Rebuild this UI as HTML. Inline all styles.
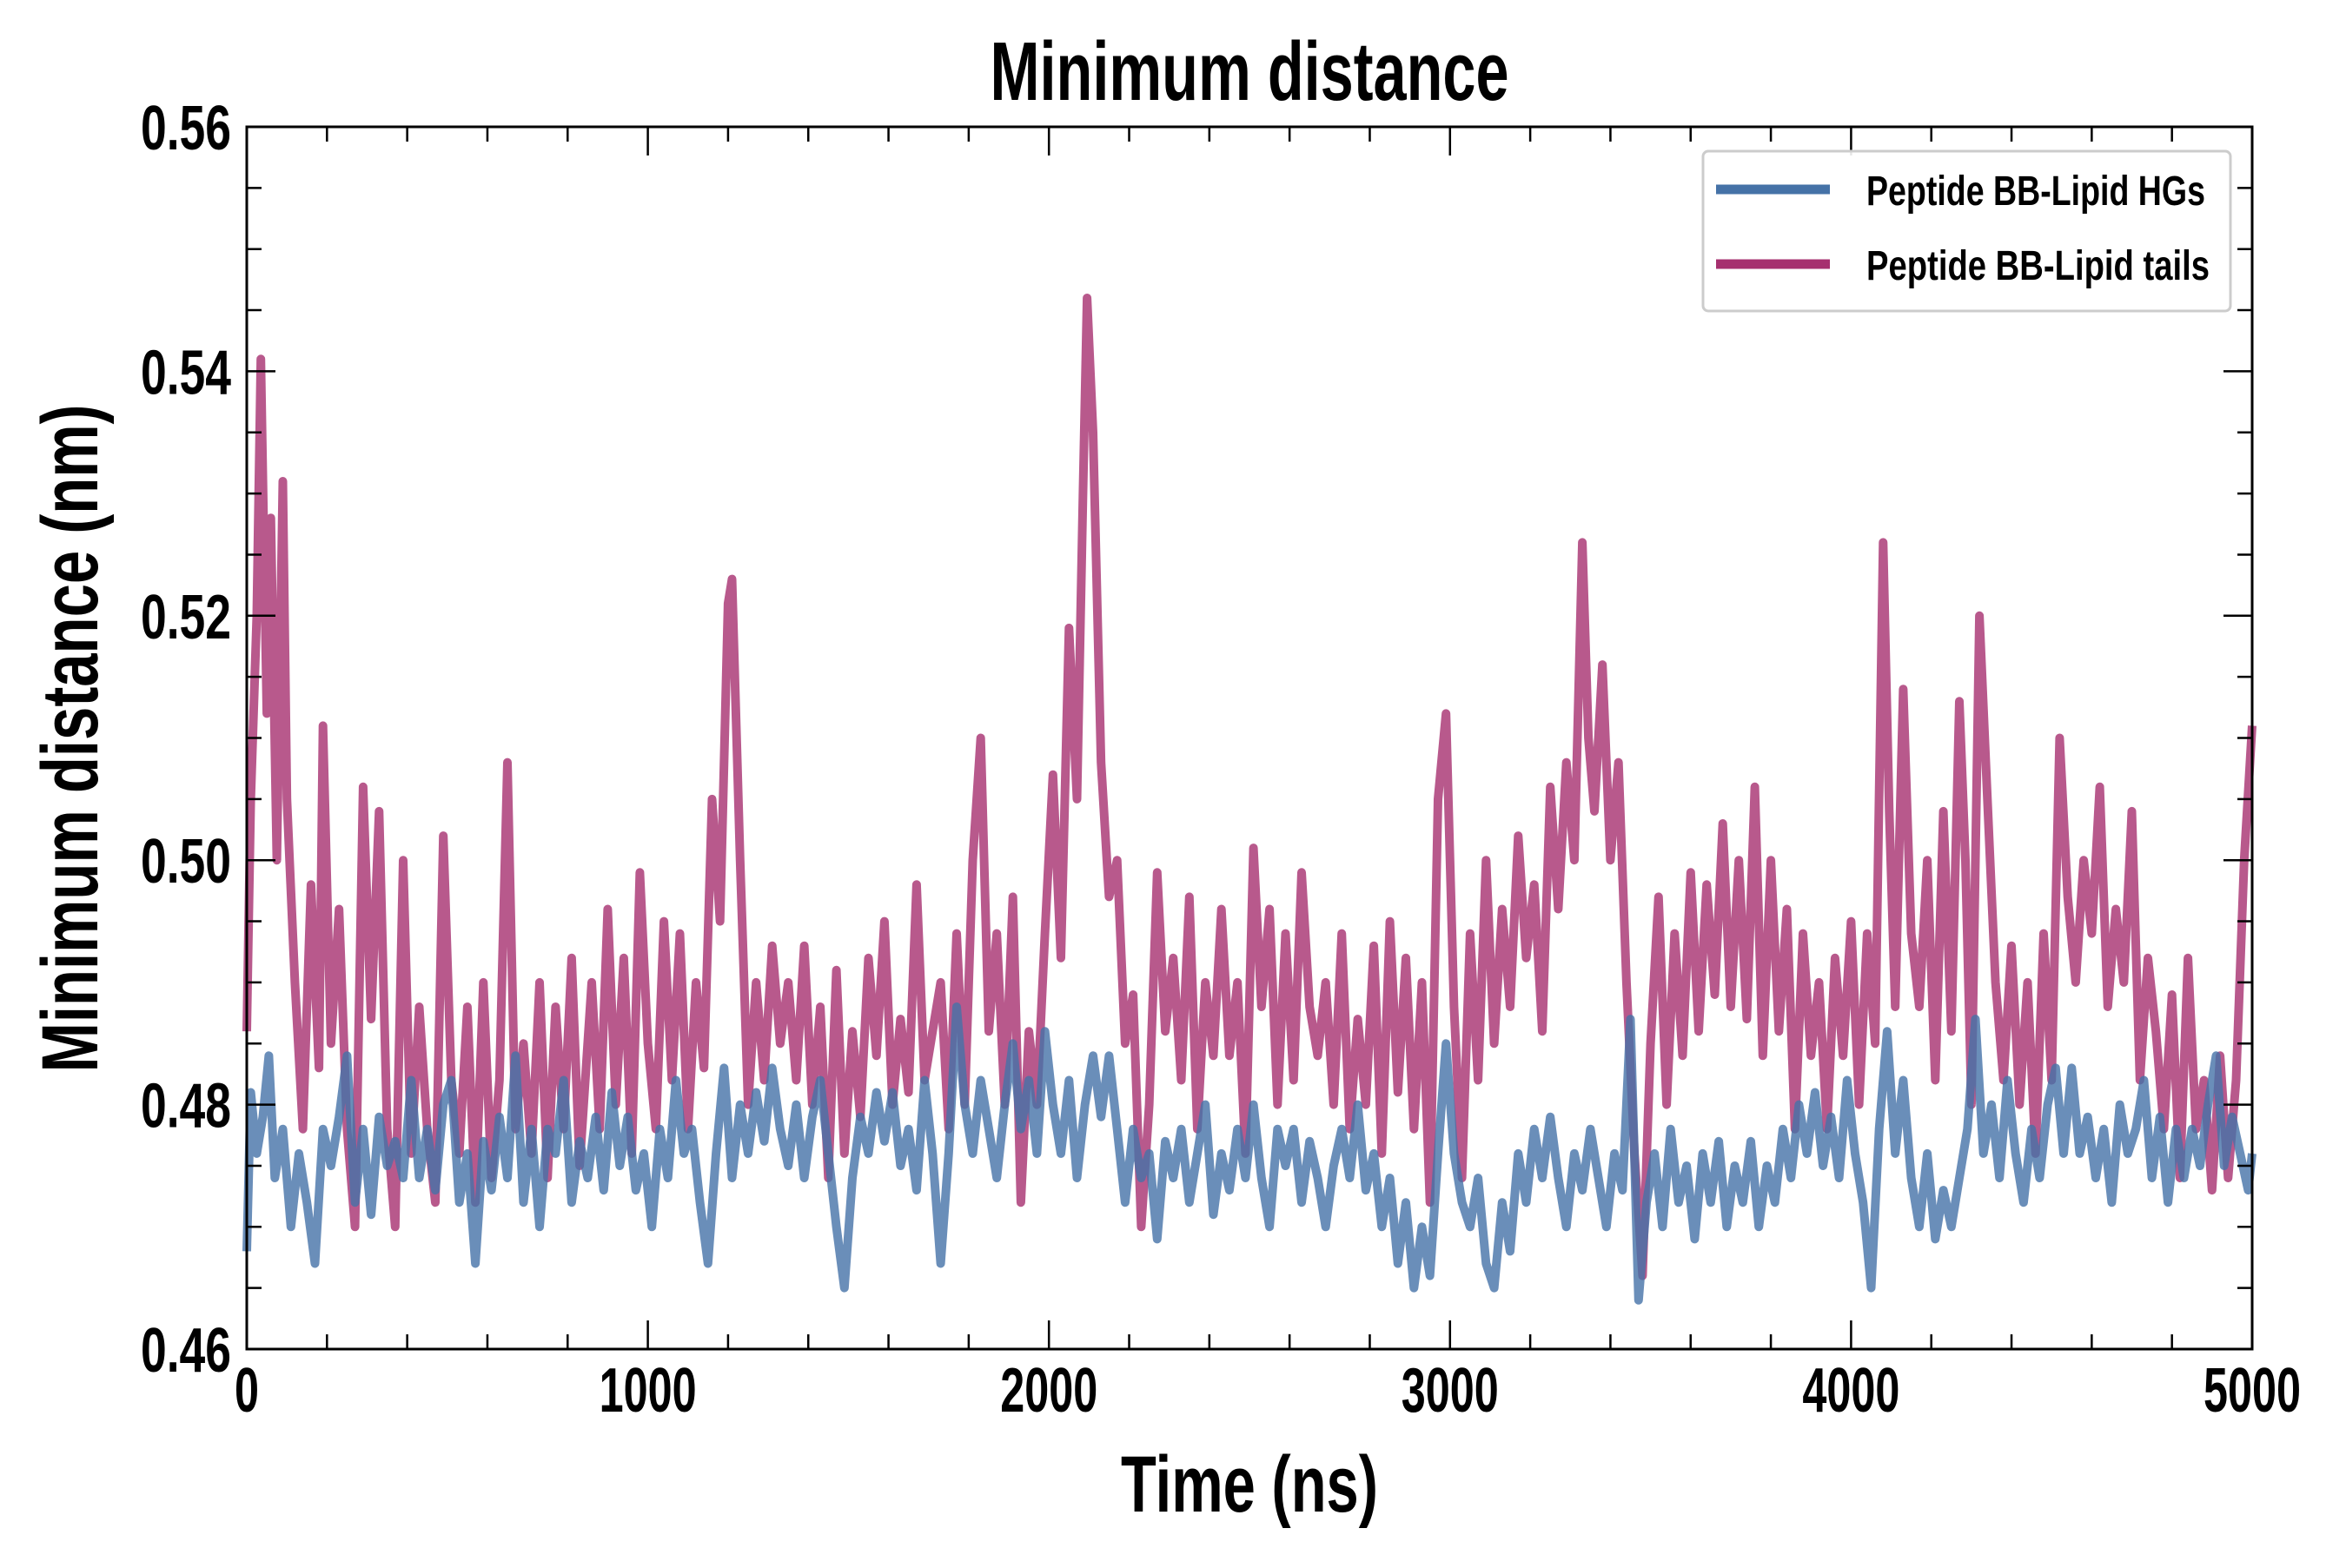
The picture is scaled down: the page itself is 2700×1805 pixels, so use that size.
<!DOCTYPE html>
<html><head><meta charset="utf-8"><style>
html,body{margin:0;padding:0;background:#fff;}
svg text{font-family:"Liberation Sans",sans-serif;font-weight:bold;fill:#000;}
</style></head><body>
<svg id="chart" width="2700" height="1800" viewBox="0 0 2700 1800" xmlns="http://www.w3.org/2000/svg">
<rect width="2700" height="1800" fill="#fff"/>
<text x="1438" y="115" font-size="96" text-anchor="middle" textLength="597" lengthAdjust="spacingAndGlyphs">Minimum distance</text>
<text x="1438" y="1740" font-size="92" text-anchor="middle" textLength="296" lengthAdjust="spacingAndGlyphs">Time (ns)</text>
<text transform="translate(112,850) rotate(-90)" font-size="92" text-anchor="middle" textLength="769" lengthAdjust="spacingAndGlyphs">Minimum distance (nm)</text>
<g id="series"></g>
<g id="axes"></g>
<g>
<rect x="1960" y="174" width="607" height="184" rx="6" fill="#fff" fill-opacity="0.9" stroke="#ccc" stroke-width="3"/>
<line x1="1975" y1="218" x2="2106" y2="218" stroke="#4572a7" stroke-width="11"/>
<text x="2148" y="236" font-size="48" textLength="390" lengthAdjust="spacingAndGlyphs">Peptide BB-Lipid HGs</text>
<line x1="1975" y1="304" x2="2106" y2="304" stroke="#a6306f" stroke-width="11"/>
<text x="2148" y="322" font-size="48" textLength="395" lengthAdjust="spacingAndGlyphs">Peptide BB-Lipid tails</text>
</g>
</svg>
<script>
const tailsT=[0,10,25,35,50,60,75,90,100,120,140,160,180,190,210,230,250,270,290,310,330,350,370,390,410,430,450,470,490,510,530,550,570,590,610,630,650,670,690,710,730,750,770,790,810,830,860,880,900,920,940,960,980,1000,1020,1040,1060,1080,1100,1120,1140,1160,1180,1200,1210,1230,1250,1270,1290,1310,1330,1350,1370,1390,1410,1430,1450,1470,1490,1510,1530,1550,1570,1590,1610,1630,1650,1670,1690,1710,1730,1750,1770,1790,1810,1830,1850,1870,1890,1910,1930,1950,1970,1990,2010,2030,2050,2070,2085,2095,2110,2130,2150,2170,2190,2210,2230,2250,2270,2290,2310,2330,2350,2370,2390,2410,2430,2450,2470,2490,2510,2530,2550,2570,2590,2610,2630,2650,2670,2690,2710,2730,2750,2770,2790,2810,2830,2850,2870,2890,2910,2930,2950,2970,2990,3010,3030,3050,3070,3090,3110,3130,3150,3170,3190,3210,3230,3250,3270,3290,3310,3330,3345,3360,3380,3400,3420,3440,3460,3480,3500,3520,3540,3560,3580,3600,3620,3640,3660,3680,3700,3720,3740,3760,3780,3800,3820,3840,3860,3880,3900,3920,3940,3960,3980,4000,4020,4040,4060,4080,4095,4110,4130,4150,4170,4190,4210,4230,4250,4270,4285,4300,4320,4340,4360,4380,4400,4420,4440,4460,4480,4500,4520,4540,4560,4580,4600,4620,4640,4660,4680,4700,4720,4740,4760,4780,4800,4820,4840,4860,4880,4900,4920,4940,4960,4980,5000];
const tailsV=[0.486,0.505,0.520,0.541,0.512,0.528,0.500,0.531,0.505,0.490,0.478,0.498,0.483,0.511,0.485,0.496,0.478,0.470,0.506,0.487,0.504,0.478,0.470,0.500,0.476,0.488,0.478,0.472,0.502,0.482,0.476,0.488,0.472,0.490,0.474,0.482,0.508,0.478,0.485,0.476,0.490,0.474,0.488,0.478,0.492,0.475,0.490,0.478,0.496,0.480,0.492,0.476,0.499,0.485,0.478,0.495,0.482,0.494,0.478,0.490,0.483,0.505,0.495,0.521,0.523,0.500,0.480,0.490,0.482,0.493,0.485,0.490,0.482,0.493,0.480,0.488,0.474,0.491,0.476,0.486,0.479,0.492,0.484,0.495,0.480,0.487,0.481,0.498,0.482,0.486,0.490,0.478,0.494,0.480,0.500,0.510,0.486,0.494,0.480,0.497,0.472,0.486,0.480,0.494,0.507,0.492,0.519,0.505,0.530,0.546,0.535,0.508,0.497,0.500,0.485,0.489,0.470,0.480,0.499,0.486,0.492,0.482,0.497,0.478,0.490,0.484,0.496,0.484,0.490,0.476,0.501,0.488,0.496,0.480,0.494,0.482,0.499,0.488,0.484,0.490,0.480,0.494,0.478,0.487,0.480,0.493,0.476,0.495,0.481,0.492,0.478,0.490,0.472,0.505,0.512,0.488,0.474,0.494,0.482,0.500,0.485,0.496,0.488,0.502,0.492,0.498,0.486,0.506,0.496,0.508,0.500,0.526,0.510,0.504,0.516,0.500,0.508,0.490,0.476,0.466,0.485,0.497,0.480,0.494,0.484,0.499,0.486,0.498,0.489,0.503,0.488,0.500,0.487,0.506,0.484,0.500,0.486,0.496,0.478,0.494,0.484,0.490,0.478,0.492,0.484,0.495,0.480,0.494,0.485,0.526,0.504,0.488,0.514,0.494,0.488,0.500,0.482,0.504,0.486,0.513,0.500,0.480,0.520,0.505,0.490,0.482,0.493,0.480,0.490,0.476,0.494,0.482,0.510,0.497,0.490,0.500,0.494,0.506,0.488,0.496,0.490,0.504,0.482,0.492,0.486,0.478,0.489,0.474,0.492,0.478,0.482,0.473,0.484,0.474,0.482,0.500,0.511];
const hgsT=[0,10,25,40,55,70,90,110,130,150,170,190,210,230,250,270,290,310,330,350,370,390,410,430,450,470,490,510,530,550,570,590,610,630,650,670,690,710,730,750,770,790,810,830,850,870,890,910,930,950,970,990,1010,1030,1050,1070,1090,1110,1130,1150,1170,1190,1210,1230,1250,1270,1290,1310,1330,1350,1370,1390,1410,1430,1450,1470,1490,1510,1530,1550,1570,1590,1610,1630,1650,1670,1690,1710,1730,1750,1770,1790,1810,1830,1850,1870,1890,1910,1930,1950,1970,1990,2010,2030,2050,2070,2090,2110,2130,2150,2170,2190,2210,2230,2250,2270,2290,2310,2330,2350,2370,2390,2410,2430,2450,2470,2490,2510,2530,2550,2570,2590,2610,2630,2650,2670,2690,2710,2730,2750,2770,2790,2810,2830,2850,2870,2890,2910,2930,2950,2970,2990,3010,3030,3050,3070,3090,3110,3130,3150,3170,3190,3210,3230,3250,3270,3290,3310,3330,3350,3370,3390,3410,3430,3450,3470,3490,3510,3530,3550,3570,3590,3610,3630,3650,3670,3690,3710,3730,3750,3770,3790,3810,3830,3850,3870,3890,3910,3930,3950,3970,3990,4010,4030,4050,4070,4090,4110,4130,4150,4170,4190,4210,4230,4250,4270,4290,4310,4330,4350,4370,4390,4410,4430,4450,4470,4490,4510,4530,4550,4570,4590,4610,4630,4650,4670,4690,4710,4730,4750,4770,4790,4810,4830,4850,4870,4890,4910,4930,4950,4970,4990,5000];
const hgsV=[0.468,0.481,0.476,0.479,0.484,0.474,0.478,0.470,0.476,0.472,0.467,0.478,0.475,0.479,0.484,0.472,0.478,0.471,0.479,0.475,0.477,0.474,0.482,0.474,0.478,0.473,0.480,0.482,0.472,0.476,0.467,0.477,0.473,0.479,0.474,0.484,0.472,0.478,0.470,0.478,0.476,0.482,0.472,0.477,0.474,0.479,0.473,0.481,0.475,0.479,0.473,0.476,0.470,0.478,0.474,0.482,0.476,0.478,0.472,0.467,0.476,0.483,0.474,0.480,0.476,0.481,0.477,0.483,0.478,0.475,0.480,0.474,0.479,0.482,0.476,0.470,0.465,0.474,0.479,0.476,0.481,0.477,0.481,0.475,0.478,0.473,0.482,0.476,0.467,0.476,0.488,0.480,0.476,0.482,0.478,0.474,0.480,0.485,0.478,0.482,0.476,0.486,0.480,0.476,0.482,0.474,0.480,0.484,0.479,0.484,0.478,0.472,0.478,0.474,0.476,0.469,0.477,0.474,0.478,0.472,0.476,0.480,0.471,0.476,0.473,0.478,0.474,0.480,0.474,0.470,0.478,0.475,0.478,0.472,0.477,0.474,0.470,0.475,0.478,0.474,0.480,0.473,0.476,0.470,0.474,0.467,0.472,0.465,0.470,0.466,0.476,0.485,0.476,0.472,0.470,0.474,0.467,0.465,0.472,0.468,0.476,0.472,0.478,0.474,0.479,0.474,0.470,0.476,0.473,0.478,0.474,0.470,0.476,0.473,0.487,0.464,0.472,0.476,0.470,0.478,0.472,0.475,0.469,0.476,0.472,0.477,0.470,0.475,0.472,0.477,0.470,0.475,0.472,0.478,0.474,0.480,0.476,0.481,0.475,0.479,0.474,0.482,0.476,0.472,0.465,0.478,0.486,0.476,0.482,0.474,0.470,0.476,0.469,0.473,0.470,0.474,0.478,0.487,0.476,0.480,0.474,0.482,0.476,0.472,0.478,0.474,0.480,0.483,0.476,0.483,0.476,0.479,0.474,0.478,0.472,0.480,0.476,0.478,0.482,0.474,0.479,0.472,0.478,0.474,0.478,0.475,0.480,0.484,0.475,0.479,0.476,0.473,0.476];
const xTicks=[0,1000,2000,3000,4000,5000];
const yTicks=[0.46,0.48,0.50,0.52,0.54,0.56];
const yTickLabels=["0.46","0.48","0.50","0.52","0.54","0.56"];

const L=284,R=2592,T=146,B=1553;
const X0=0,X1=5000,Y0=0.46,Y1=0.56;
const NS="http://www.w3.org/2000/svg";
function xs(v){return L+(v-X0)/(X1-X0)*(R-L);}
function ys(v){return B-(v-Y0)/(Y1-Y0)*(B-T);}
function mk(tag,attrs,parent){const e=document.createElementNS(NS,tag);for(const k in attrs)e.setAttribute(k,attrs[k]);parent.appendChild(e);return e;}

const sg=document.getElementById('series');
function drawLine(tsArr,vals,color,name){
  let d='';
  for(let i=0;i<tsArr.length;i++){d+=(i?'L':'M')+xs(tsArr[i]).toFixed(1)+','+ys(vals[i]).toFixed(1);}
  const p=mk('path',{d:d,fill:'none',stroke:color,'stroke-width':10,'stroke-linejoin':'round','stroke-opacity':0.8},sg);
  
  
}
drawLine(tailsT,tailsV,'#a6306f','tails-line');
drawLine(hgsT,hgsV,'#4572a7','hgs-line');

const ag=document.getElementById('axes');
const frame=mk('rect',{x:L,y:T,width:R-L,height:B-T,fill:'none',stroke:'#000','stroke-width':3},ag);


for(let v=0;v<=5000;v+=200){
  const major=v%1000===0, len=major?33:17, x=xs(v);
  mk('line',{x1:x,y1:B,x2:x,y2:B-len,stroke:'#000','stroke-width':2.5},ag);
  mk('line',{x1:x,y1:T,x2:x,y2:T+len,stroke:'#000','stroke-width':2.5},ag);
}
for(let i=0;i<=20;i++){
  const v=0.46+i*0.005, major=i%4===0, len=major?33:17, y=ys(v);
  mk('line',{x1:L,y1:y,x2:L+len,y2:y,stroke:'#000','stroke-width':2.5},ag);
  mk('line',{x1:R,y1:y,x2:R-len,y2:y,stroke:'#000','stroke-width':2.5},ag);
}
xTicks.forEach(v=>{
  const t=mk('text',{x:xs(v),y:B+72,'font-size':72,'text-anchor':'middle',textLength:String(v).length*28,lengthAdjust:'spacingAndGlyphs'},ag);
  t.textContent=String(v);
  
  
});
yTicks.forEach((v,i)=>{
  const t=mk('text',{x:266,y:ys(v)+26,'font-size':72,'text-anchor':'end',textLength:104,lengthAdjust:'spacingAndGlyphs'},ag);
  t.textContent=yTickLabels[i];
  
  
});
</script>
</body></html>
